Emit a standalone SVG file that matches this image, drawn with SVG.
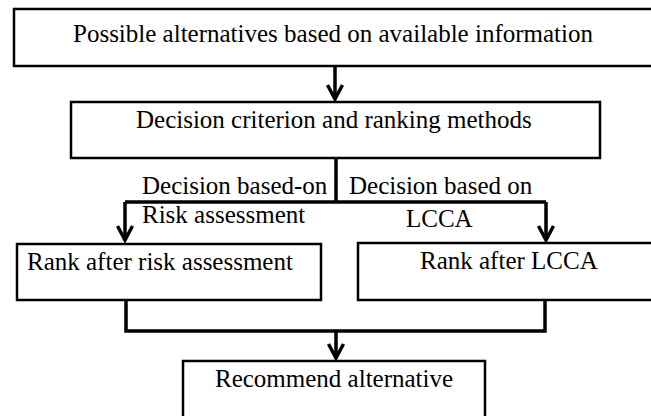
<svg xmlns="http://www.w3.org/2000/svg" width="651" height="416" viewBox="0 0 651 416">
<defs>
<style>
.box{fill:#fff;stroke:#000;stroke-width:2.5}
.t{font-family:"Liberation Serif","Times New Roman",serif;font-size:25px;fill:#000}
.c{fill:none;stroke:#000;stroke-width:3.5}
</style>
<marker id="ah" markerUnits="userSpaceOnUse" markerWidth="20" markerHeight="20" refX="15" refY="10" orient="auto" viewBox="0 0 20 20">
<path d="M1,2.5 L15,10 L1,17.5" fill="none" stroke="#000" stroke-width="3.5"/>
</marker>
</defs>
<rect width="651" height="416" fill="#fff"/>
<g id="n1"><rect class="box" x="14" y="9" width="642" height="57"/><text class="t" x="73" y="42">Possible alternatives based on available information</text></g>
<g id="n2"><rect class="box" x="71" y="102" width="529" height="56"/><text class="t" x="136" y="128">Decision criterion and ranking methods</text></g>
<g id="n3"><rect class="box" x="17" y="244" width="304" height="56"/><text class="t" x="27" y="270">Rank after risk assessment</text></g>
<g id="n4"><rect class="box" x="358" y="243" width="300" height="57"/><text class="t" x="420" y="269">Rank after LCCA</text></g>
<g id="n5"><rect class="box" x="183" y="361" width="302" height="62"/><text class="t" x="215" y="387">Recommend alternative</text></g>
<g id="connectors">
<path class="c" d="M335,67 V99" marker-end="url(#ah)"/>
<path class="c" d="M336,159 V202"/>
<path class="c" d="M125,202 H546"/>
<path class="c" d="M125,202 V240" marker-end="url(#ah)"/>
<path class="c" d="M546,202 V240" marker-end="url(#ah)"/>
<path class="c" d="M126,301 V331 H545 V301"/>
<path class="c" d="M336,331 V358" marker-end="url(#ah)"/>
<text class="t" x="142" y="194">Decision based-on</text>
<text class="t" x="349" y="194">Decision based on</text>
<text class="t" x="142" y="223">Risk assessment</text>
<text class="t" x="406" y="227">LCCA</text>
</g>
</svg>
